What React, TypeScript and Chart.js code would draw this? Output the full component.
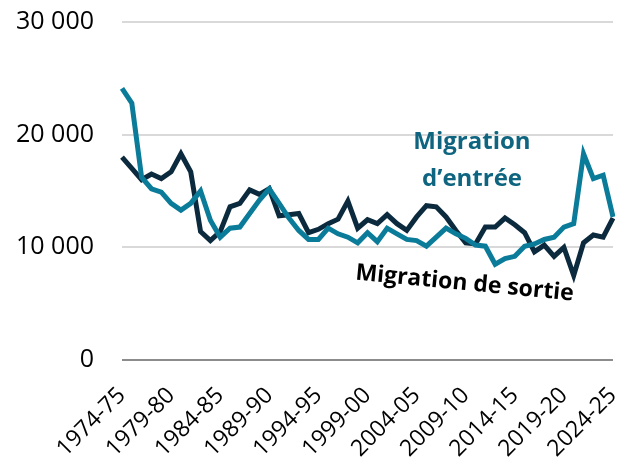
import React, { useEffect, useRef } from "react";
import { Chart, registerables } from "chart.js";

Chart.register(...registerables);

const startYears: number[] = [];
for (let y = 1974; y <= 2024; y++) startYears.push(y);
const categories = startYears.map((y) => `${y}-${String((y + 1) % 100).padStart(2, "0")}`);

const migrationEntree = [
  24100, 22800, 16200, 15200, 14900, 13900, 13300, 13900, 15000, 12400,
  10900, 11700, 11800, 13000, 14200, 15200, 13900, 12600, 11500, 10700,
  10700, 11700, 11200, 10900, 10400, 11300, 10500, 11700, 11200, 10700,
  10600, 10100, 10900, 11700, 11200, 10800, 10200, 10100, 8500, 9000,
  9200, 10100, 10300, 10700, 10900, 11800, 12100, 18300, 16100, 16400,
  12700,
];

const migrationSortie = [
  18000, 17000, 16000, 16500, 16100, 16700, 18300, 16700, 11400, 10600,
  11400, 13600, 13900, 15100, 14700, 15200, 12800, 12900, 13000, 11300,
  11600, 12100, 12500, 14100, 11700, 12450, 12100, 12900, 12100, 11500,
  12700, 13700, 13600, 12700, 11500, 10400, 10300, 11800, 11800, 12600,
  12000, 11300, 9600, 10200, 9200, 10000, 7500, 10400, 11100, 10900,
  12600,
];

const yTicks = [0, 10000, 20000, 30000];
const seriesNames = ["Migration d\u2019entrée", "Migration de sortie"];

const TEAL = "#0a7b99";
const TEAL_TEXT = "#0f6580";
const DARK = "#0c2a3d";
const FONT = "'Open Sans', sans-serif";

function fmt(v: number) {
  return String(v).replace(/\B(?=(\d{3})+(?!\d))/g, " ");
}

export default function App() {
  const ref = useRef<HTMLCanvasElement | null>(null);
  useEffect(() => {
    document.body.style.margin = "0";
    const canvas = ref.current!;
    const annot = {
      id: "annot",
      afterDatasetsDraw(chart: any) {
        const ctx = chart.ctx;
        ctx.save();
        ctx.fillStyle = TEAL_TEXT;
        ctx.font = `bold 24px ${FONT}`;
        ctx.textAlign = "center";
        ctx.textBaseline = "alphabetic";
        ctx.fillText("Migration", 472, 149);
        ctx.fillText("d\u2019entrée", 472, 186);
        ctx.translate(464, 290);
        ctx.rotate((5.5 * Math.PI) / 180);
        ctx.fillStyle = "#000000";
        ctx.font = `bold 23px ${FONT}`;
        ctx.fillText("Migration de sortie", 0, 0);
        ctx.restore();
      },
    };
    const chart = new Chart(canvas, {
      type: "line",
      data: {
        labels: categories,
        datasets: [
          {
            label: seriesNames[0],
            data: migrationEntree,
            borderColor: TEAL,
            borderWidth: 5,
            pointRadius: 0,
            tension: 0,
            fill: false,
          },
          {
            label: seriesNames[1],
            data: migrationSortie,
            borderColor: DARK,
            borderWidth: 5,
            pointRadius: 0,
            tension: 0,
            fill: false,
          },
        ],
      },
      options: {
        animation: false,
        responsive: false,
        layout: { padding: { top: 22, right: 15, left: 0, bottom: 0 } },
        plugins: { legend: { display: false }, tooltip: { enabled: false } },
        scales: {
          x: {
            offset: false,
            grid: { display: false, drawTicks: false },
            border: { display: false },
            ticks: {
              autoSkip: false,
              minRotation: 45,
              maxRotation: 45,
              padding: 22,
              color: "#000000",
              font: { family: FONT, size: 23 },
              callback: (_v: any, i: number) => (i % 5 === 0 ? categories[i] : ""),
            },
            afterFit: (s: any) => {
              s.height = 105;
              s.paddingLeft = 0;
              s.paddingRight = 0;
            },
          },
          y: {
            min: 0,
            max: 30000,
            afterBuildTicks: (s: any) => {
              s.ticks = yTicks.map((v) => ({ value: v }));
            },
            grid: {
              drawTicks: false,
              lineWidth: 2,
              color: (c: any) => (c.tick && c.tick.value === 0 ? "#8c8c8c" : "#d9d9d9"),
            },
            border: { display: false },
            ticks: {
              padding: 28,
              color: "#000000",
              font: { family: FONT, size: 25 },
              callback: (v: any) => fmt(Number(v)),
            },
            afterFit: (s: any) => {
              s.width = 122;
              s.paddingTop = 0;
              s.paddingBottom = 0;
            },
          },
        },
      },
      plugins: [annot],
    });
    return () => chart.destroy();
  }, []);
  return (
    <div style={{ width: 628, height: 465 }}>
      <canvas ref={ref} width={628} height={465} style={{ display: "block" }} />
    </div>
  );
}
